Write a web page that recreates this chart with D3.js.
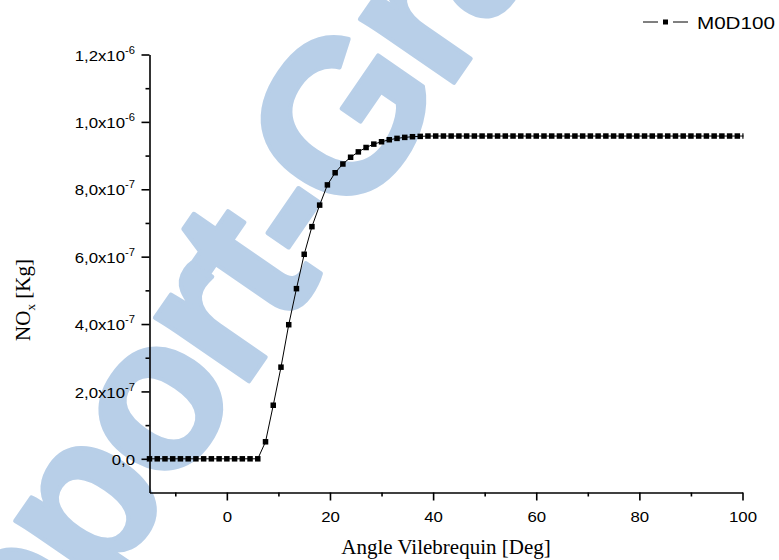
<!DOCTYPE html>
<html>
<head>
<meta charset="utf-8">
<script src="https://cdn.jsdelivr.net/npm/d3@7"></script>
<style>
  body { margin: 0; background: #fff; }
  svg { display: block; }
</style>
</head>
<body>
<svg id="chart" width="779" height="560"></svg>
<script>
// crank angle [deg] and NOx mass [x1e-7 kg]
const angles = [-15, -13.5, -12, -10.5, -9, -7.5, -6, -4.5, -3, -1.5, 0, 1.5, 3, 4.5, 6,
  7.5, 9, 10.5, 12, 13.5, 15, 16.5, 18, 19.5, 21, 22.5, 24, 25.5, 27, 28.5, 30, 31.5, 33, 34.5, 36, 37.5,
  39, 40.5, 42, 43.5, 45, 46.5, 48, 49.5, 51, 52.5, 54, 55.5, 57, 58.5, 60, 61.5, 63, 64.5, 66, 67.5,
  69, 70.5, 72, 73.5, 75, 76.5, 78, 79.5, 81, 82.5, 84, 85.5, 87, 88.5, 90, 91.5, 93, 94.5, 96, 97.5, 99, 100.5]
const noxE7 = [0, 0, 0, 0, 0, 0, 0, 0, 0, 0, 0, 0, 0, 0, 0,
  0.505, 1.59, 2.72, 3.98, 5.05, 6.07, 6.89, 7.53, 8.13, 8.49, 8.75, 8.95, 9.11, 9.24, 9.34, 9.41, 9.47, 9.51, 9.54, 9.56, 9.57,
  9.58, 9.58, 9.58, 9.58, 9.58, 9.58, 9.58, 9.58, 9.58, 9.58, 9.58, 9.58, 9.58, 9.58, 9.58, 9.58, 9.58, 9.58, 9.58, 9.58,
  9.58, 9.58, 9.58, 9.58, 9.58, 9.58, 9.58, 9.58, 9.58, 9.58, 9.58, 9.58, 9.58, 9.58, 9.58, 9.58, 9.58, 9.58, 9.58, 9.58, 9.58, 9.58]

const xTicks = [0, 20, 40, 60, 80, 100]
const xMinor = [-10, 10, 30, 50, 70, 90]
const yTicks = [0, 2, 4, 6, 8, 10, 12]
const yTickMant = ['0,0', '2,0x10', '4,0x10', '6,0x10', '8,0x10', '1,0x10', '1,2x10']
const yTickExp = ['', '-7', '-7', '-7', '-7', '-6', '-6']
const yMinor = [1, 3, 5, 7, 9, 11]
const seriesName = 'M0D100'

const svg = d3.select('#chart')
const SANS = '"Liberation Sans", Arial, sans-serif'
const SERIF = '"Liberation Serif", "Times New Roman", serif'

let x = d3.scaleLinear().domain([-15, 100]).range([149.5, 742.5])
let y = d3.scaleLinear().domain([-1, 12]).range([492.5, 54.5])

// watermark behind everything
const WM = 215
svg.append('g')
  .attr('transform', 'translate(173,393) rotate(-55.5)')
  .append('text')
  .attr('x', -2.8055 * WM + 12)
  .attr('y', 0.26 * WM)
  .attr('font-family', SANS)
  .attr('font-weight', 'bold')
  .attr('font-size', WM)
  .attr('letter-spacing', -8)
  .attr('fill', '#b8cfe8')
  .attr('stroke', '#b8cfe8')
  .attr('stroke-width', 4)
  .attr('stroke-linejoin', 'round')
  .text('Rapport-Gratuit')

// x axis
let xAxis = svg.append('g')
  .attr('transform', 'translate(0,' + y(-1) + ')')
  .call(d3.axisBottom(x).tickValues(xTicks).tickSize(8).tickSizeOuter(0).tickPadding(11))
xAxis.selectAll('text')
  .attr('transform', 'scale(1.12,1)')
  .style('font-family', SANS)
  .style('font-size', '15px')
  .attr('fill', '#000')

svg.append('g')
  .attr('transform', 'translate(0,' + y(-1) + ')')
  .call(d3.axisBottom(x).tickValues(xMinor).tickSize(4).tickFormat(''))
  .call(g => g.select('.domain').remove())

// y axis
let yAxis = svg.append('g')
  .attr('transform', 'translate(' + x(-15) + ',0)')
  .call(d3.axisLeft(y).tickValues(yTicks).tickSize(8).tickSizeOuter(0).tickFormat(''))

yAxis.selectAll('.tick').each(function(d, i) {
  let t = d3.select(this).select('text')
    .attr('x', 0)
    .attr('dy', '0.38em')
    .attr('transform', 'translate(-14.5,0) scale(1.12,1)')
    .style('font-family', SANS)
    .style('font-size', '15px')
    .attr('fill', '#000')
  t.append('tspan').text(yTickMant[i])
  if (yTickExp[i]) {
    t.append('tspan').attr('dy', -7).style('font-size', '10px').text(yTickExp[i])
  }
})

svg.append('g')
  .attr('transform', 'translate(' + x(-15) + ',0)')
  .call(d3.axisLeft(y).tickValues(yMinor).tickSize(4).tickFormat(''))
  .call(g => g.select('.domain').remove())

svg.selectAll('.domain, .tick line')
  .attr('stroke', '#000')
  .attr('stroke-width', 1.6)

// axis titles
svg.append('text')
  .attr('x', 446)
  .attr('y', 554)
  .attr('text-anchor', 'middle')
  .style('font-family', SERIF)
  .style('font-size', '21px')
  .text('Angle Vilebrequin [Deg]')

let yTitle = svg.append('text')
  .attr('transform', 'translate(30,300) rotate(-90)')
  .attr('text-anchor', 'middle')
  .style('font-family', SERIF)
  .style('font-size', '21px')
yTitle.append('tspan').text('NO')
yTitle.append('tspan').attr('dy', 5).style('font-size', '13px').text('x')
yTitle.append('tspan').attr('dy', -5).text(' [Kg]')

// series
let points = angles.map((a, i) => ({a: a, v: noxE7[i]}))

svg.append('clipPath').attr('id', 'plotClip')
  .append('rect')
  .attr('x', 0).attr('y', 0)
  .attr('width', x(100) + 1).attr('height', 560)

let plot = svg.append('g').attr('clip-path', 'url(#plotClip)')

let line = d3.line().x(d => x(d.a)).y(d => y(d.v))

plot.append('path')
  .datum(points)
  .attr('d', line)
  .attr('fill', 'none')
  .attr('stroke', '#000')
  .attr('stroke-width', 1)

plot.selectAll('rect.pt')
  .data(points)
  .enter()
  .append('rect')
  .attr('class', 'pt')
  .attr('x', d => x(d.a) - 2.75)
  .attr('y', d => y(d.v) - 2.75)
  .attr('width', 5.5)
  .attr('height', 5.5)
  .attr('fill', '#000')

// legend
let legend = svg.append('g')
legend.append('line')
  .attr('x1', 643).attr('x2', 658).attr('y1', 22).attr('y2', 22)
  .attr('stroke', '#000').attr('stroke-width', 1)
legend.append('line')
  .attr('x1', 673).attr('x2', 688).attr('y1', 22).attr('y2', 22)
  .attr('stroke', '#000').attr('stroke-width', 1)
legend.append('rect')
  .attr('x', 663).attr('y', 19.5).attr('width', 5).attr('height', 5)
  .attr('fill', '#000')
legend.append('text')
  .attr('transform', 'translate(697,28.5) scale(1.25,1)')
  .style('font-family', SANS)
  .style('font-size', '16.5px')
  .text(seriesName)
</script>
</body>
</html>
